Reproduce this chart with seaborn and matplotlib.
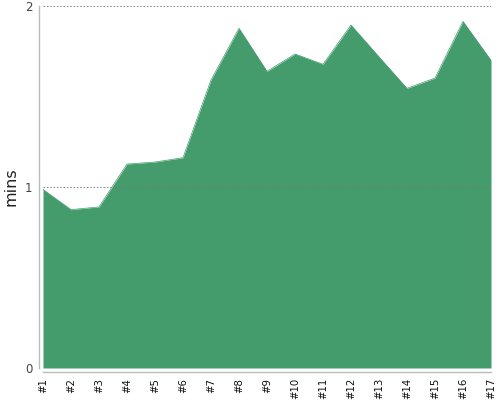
import numpy as np
import pandas as pd
import matplotlib
matplotlib.use("Agg")
import matplotlib.pyplot as plt
import seaborn as sns

labels = ["#%d" % i for i in range(1, 18)]
mins = [0.987, 0.875, 0.890, 1.127, 1.138, 1.162, 1.591, 1.877, 1.639,
        1.735, 1.678, 1.895, 1.719, 1.545, 1.602, 1.915, 1.700]

df = pd.DataFrame({"run": labels, "mins": mins})
df["pos"] = np.arange(len(df))

sns.set_style("white")
plt.rcParams["font.family"] = ["DejaVu Sans"]

fig = plt.figure(figsize=(5, 4), dpi=100)
ax = fig.add_axes([0.086, 0.08, 0.896, 0.905])

green = "#449c6c"
sns.lineplot(data=df, x="pos", y="mins", color=green, linewidth=0.5, ax=ax)
ax.fill_between(df["pos"], 0, df["mins"], color=green, linewidth=0)

# offset spines first: it resets the tick objects
sns.despine(ax=ax, offset=3)
for side in ["left", "bottom"]:
    ax.spines[side].set_color("#bbbbbb")
    ax.spines[side].set_linewidth(1)

ax.set_xlim(0, len(df) - 1)
ax.set_ylim(0, 2)
ax.set_yticks([0, 1, 2])
ax.set_xticks(df["pos"])
ax.set_xticklabels(df["run"])
ax.tick_params(axis="x", labelrotation=90, labelsize=7.3, labelcolor="#111111",
               length=3, color="#bbbbbb", width=1, pad=1)
ax.tick_params(axis="y", labelsize=8.5, labelcolor="#444444", length=3,
               color="#bbbbbb", width=1, pad=1.5)
ax.set_xlabel("")
ax.set_ylabel("mins", fontsize=11.5, color="#222222")
ax.yaxis.set_label_coords(-0.054, 0.5)

for y in [1, 2]:
    ax.axhline(y, color="#777777", linestyle=(0, (2, 2)), linewidth=0.6, zorder=5)

fig.savefig("out.png", dpi=100)
